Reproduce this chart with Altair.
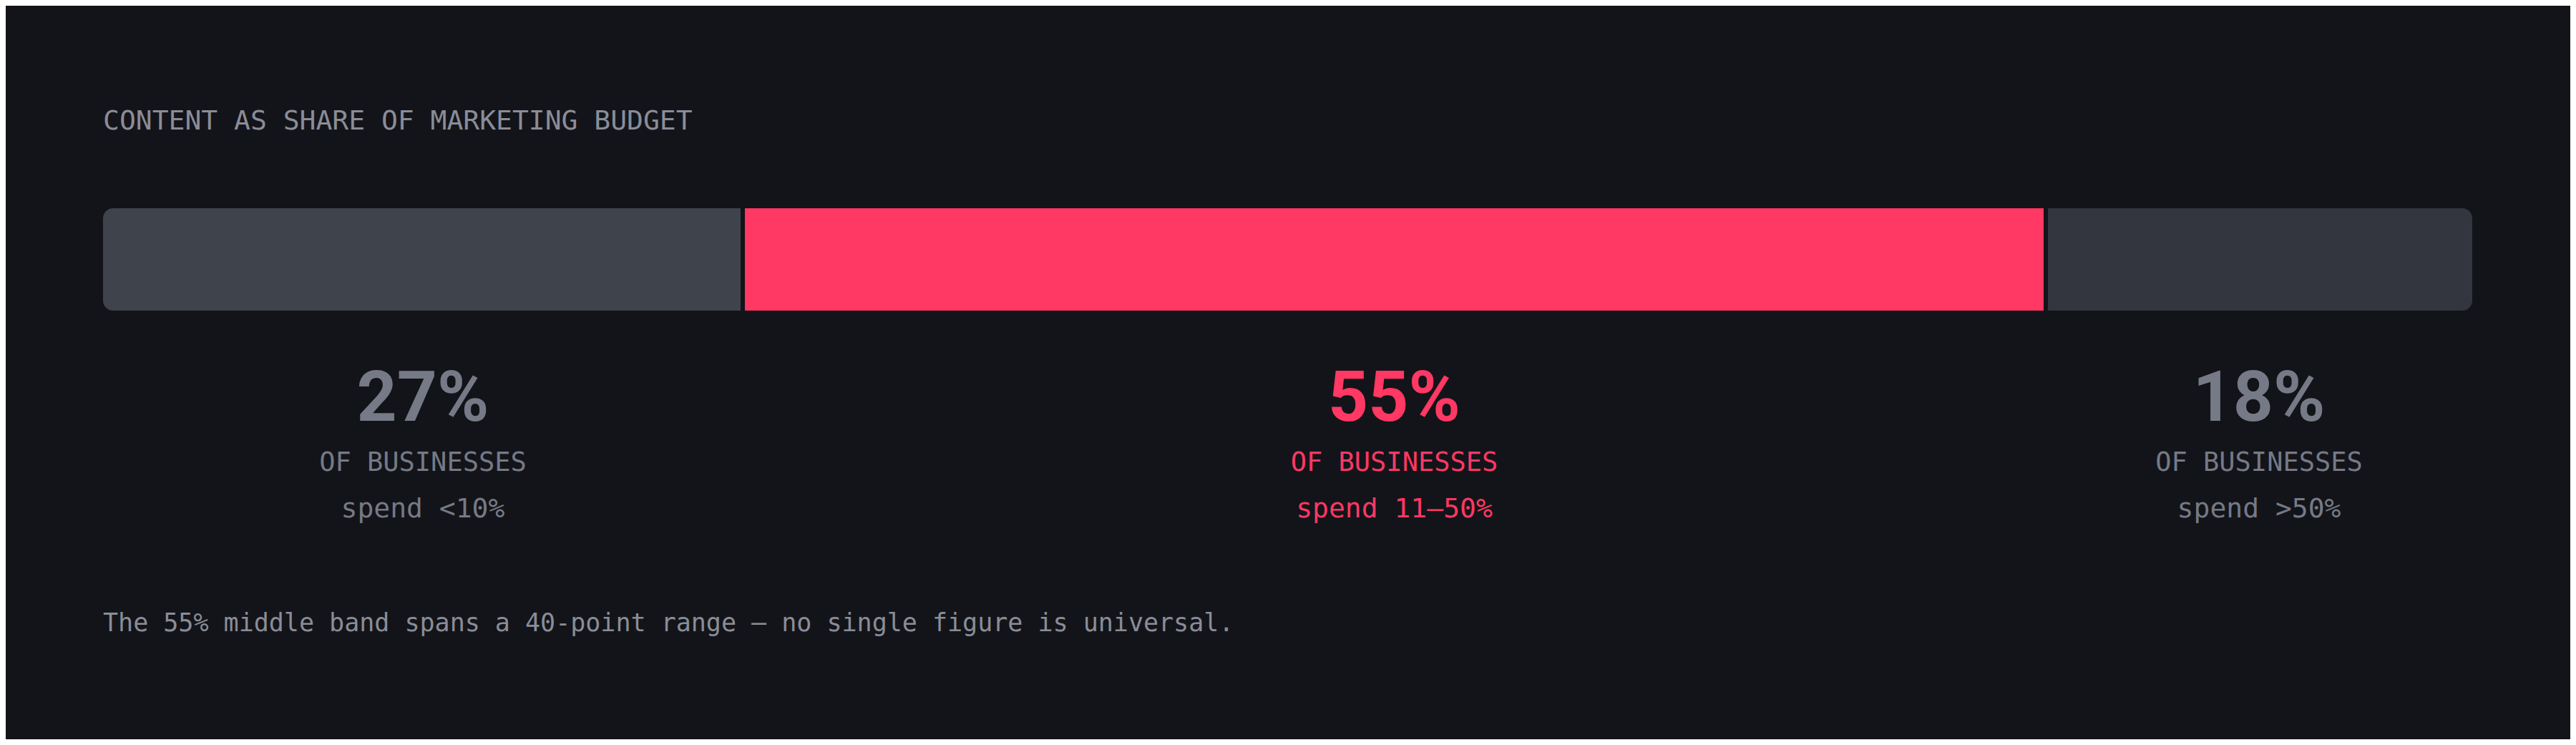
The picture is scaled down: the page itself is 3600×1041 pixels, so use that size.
import altair as alt
import pandas as pd

# ---- data ----
segments = ["low", "mid", "high"]
shares = [27, 55, 18]
share_labels = ["27%", "55%", "18%"]
sub_labels = ["OF BUSINESSES", "OF BUSINESSES", "OF BUSINESSES"]
range_labels = ["spend <10%", "spend 11\u201350%", "spend >50%"]
title_text = ["CONTENT AS SHARE OF MARKETING BUDGET"]
note_text = ["The 55% middle band spans a 40-point range \u2014 no single figure is universal."]

df = pd.DataFrame({
    "segment": segments,
    "share": shares,
    "pct": share_labels,
    "sub": sub_labels,
    "rng": range_labels,
})
df["end"] = df["share"].cumsum()
df["start"] = df["end"] - df["share"]
df["mid"] = (df["start"] + df["end"]) / 2
df["idx"] = list(range(len(df)))

# ---- styles ----
BG = "#131419"
bar_colors = ["#3f434c", "#ff3864", "#33363f"]
num_colors = ["#767a86", "#ff3864", "#767a86"]
sub_colors = ["#878b96", "#c4305a", "#878b96"]
MONO = "DejaVu Sans Mono"

W = 3311
H = 1025
xs = alt.Scale(domain=[0, 100], nice=False, zero=True)
R = 14
GAP = 3

base = alt.Chart(df)

def seg_bar(i, **corner):
    return base.transform_filter(f"datum.idx == {i}").mark_bar(
        color=bar_colors[i], **corner
    ).encode(
        x=alt.X("start:Q", scale=xs, axis=None),
        x2="end:Q",
        y=alt.value(283),
        y2=alt.value(426),
    )

bar0 = seg_bar(0, cornerRadiusTopLeft=R, cornerRadiusBottomLeft=R, x2Offset=-GAP)
bar1 = seg_bar(1, xOffset=GAP, x2Offset=-GAP)
bar2 = seg_bar(2, cornerRadiusTopRight=R, cornerRadiusBottomRight=R, xOffset=GAP)

num_text = base.mark_text(
    font="Roboto", fontWeight="bold", fontSize=98, align="center", baseline="alphabetic"
).encode(
    x=alt.X("mid:Q", scale=xs, axis=None),
    y=alt.value(580),
    text="pct:N",
    color=alt.Color("segment:N", scale=alt.Scale(domain=segments, range=num_colors), legend=None),
)

sub_text = base.mark_text(
    font=MONO, fontSize=37, align="center", baseline="alphabetic"
).encode(
    x=alt.X("mid:Q", scale=xs, axis=None),
    y=alt.value(650),
    text="sub:N",
    color=alt.Color("segment:N", scale=alt.Scale(domain=segments, range=sub_colors), legend=None),
)

rng_text = base.mark_text(
    font=MONO, fontSize=38, align="center", baseline="alphabetic"
).encode(
    x=alt.X("mid:Q", scale=xs, axis=None),
    y=alt.value(715),
    text="rng:N",
    color=alt.Color("segment:N", scale=alt.Scale(domain=segments, range=sub_colors), legend=None),
)

title = alt.Chart(pd.DataFrame({"t": title_text})).mark_text(
    font=MONO, fontSize=38, align="left", baseline="alphabetic", color="#8a8d98"
).encode(x=alt.value(0), y=alt.value(173), text="t:N")

note = alt.Chart(pd.DataFrame({"t": note_text})).mark_text(
    font=MONO, fontSize=35, align="left", baseline="alphabetic", color="#8a8d97"
).encode(x=alt.value(0), y=alt.value(874), text="t:N")

chart = alt.layer(bar0, bar1, bar2, num_text, sub_text, rng_text, title, note).properties(
    width=W,
    height=H,
    padding={"left": 136, "right": 137, "top": 0, "bottom": 0},
    autosize=alt.AutoSizeParams(type="none"),
    background=BG,
).configure_view(stroke=None)

chart.save("out.html", embed_options={"renderer": "svg", "actions": False})
